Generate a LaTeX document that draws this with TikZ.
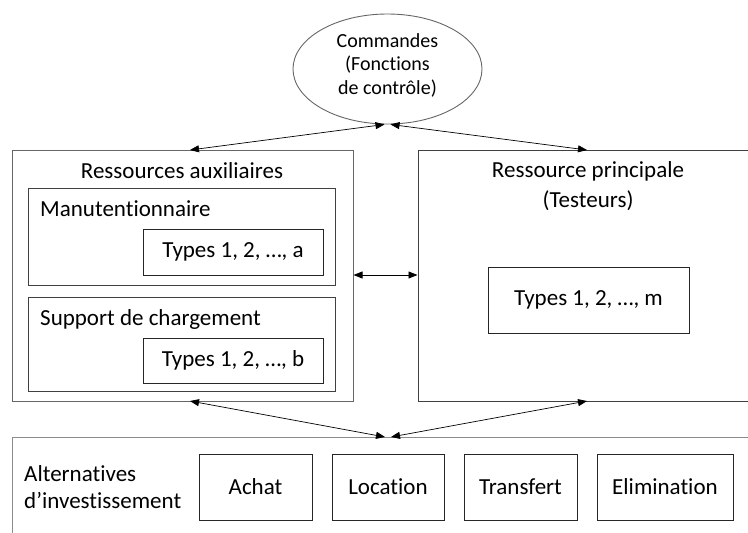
\documentclass[tikz,border=0pt]{standalone}
\usepackage{fontspec}
\setmainfont{Carlito}[Ligatures={NoCommon,NoContextual}]
\usetikzlibrary{shapes.geometric,arrows.meta}
\tikzset{
  outerbox/.style={draw=black!60, line width=1pt, rectangle, inner sep=0pt},
  innerbox/.style={draw=black!85, line width=0.9pt, rectangle, inner sep=0pt, align=center, font=\fontsize{23}{28}\selectfont},
  lbl/.style={inner sep=0pt, anchor=base, font=\fontsize{23}{28}\selectfont},
  conn/.style={black, line width=0.7pt, {Triangle[length=9pt,width=7pt]}-{Triangle[length=9pt,width=7pt]}},
}
\begin{document}
\begin{tikzpicture}[x=1pt,y=-1pt]
\useasboundingbox (0,0) rectangle (748,533);
\clip (0,0) rectangle (748,533);
% commands ellipse
\node[ellipse, draw=black!60, line width=0.9pt, minimum width=189pt, minimum height=110pt, inner sep=0pt] (cmd) at (387.5,69) {};
\node[inner sep=0pt, align=center, font=\fontsize{20}{23.5}\selectfont] (cmdt) at (387.5,65) {Commandes\\(Fonctions\\de contrôle)};
% auxiliary resources
\node[outerbox, minimum width=341pt, minimum height=251pt] (aux) at (182.5,275.5) {};
\node[lbl] (auxt) at (182,178) {Ressources auxiliaires};
\node[outerbox, draw=black!75, minimum width=307pt, minimum height=97pt] (man) at (181.5,236.5) {};
\node[lbl, anchor=base west] (mant) at (40,216) {Manutentionnaire};
\node[innerbox, minimum width=180pt, minimum height=46pt] (ta) at (233,252) {Types 1, 2, …, a};
\node[outerbox, draw=black!75, minimum width=307pt, minimum height=94pt] (sup) at (181.5,344) {};
\node[lbl, anchor=base west] (supt) at (40,325) {Support de chargement};
\node[innerbox, minimum width=180pt, minimum height=45pt] (tb) at (233,360.5) {Types 1, 2, …, b};
% main resource (extends past right edge)
\node[outerbox, draw=black!75, minimum width=360pt, minimum height=251pt] (main) at (598,275.5) {};
\node[lbl] (maint1) at (588,177) {Ressource principale};
\node[lbl] (maint2) at (588,207) {(Testeurs)};
\node[innerbox, minimum width=201pt, minimum height=66pt] (tm) at (588.5,300) {Types 1, 2, …, m};
% investment alternatives (extends past right and bottom edges)
\node[outerbox, draw=black!45, minimum width=760pt, minimum height=130pt, anchor=north west] (alt) at (12,437) {};
\node[inner sep=0pt, anchor=west, align=left, font=\fontsize{23}{27}\selectfont] (altt) at (24,487) {Alternatives\\d’investissement};
\node[innerbox, minimum width=113pt, minimum height=66pt] (ach) at (255.5,487) {Achat};
\node[innerbox, minimum width=112pt, minimum height=66pt] (loc) at (388,487) {Location};
\node[innerbox, minimum width=113pt, minimum height=66pt] (tra) at (520.5,487) {Transfert};
\node[innerbox, minimum width=136pt, minimum height=66pt] (eli) at (665,487) {Elimination};
% connectors
\coordinate (cmdL) at ([xshift=-3pt]cmd.south);
\coordinate (cmdR) at ([xshift=3pt]cmd.south);
\coordinate (altL) at ([xshift=-3pt]alt.north west -| loc.north);
\coordinate (altR) at ([xshift=3pt]alt.north west -| loc.north);
\coordinate (auxN) at (190,150);
\coordinate (mainN) at (587,150);
\coordinate (auxS) at (190,401);
\coordinate (mainS) at (587,401);
\draw[conn] (auxN) -- (cmdL);
\draw[conn] (mainN) -- (cmdR);
\draw[conn] (auxS) -- (altL);
\draw[conn] (mainS) -- (altR);
\draw[conn] (aux.east |- 0,275) -- (main.west |- 0,275);
\end{tikzpicture}
\end{document}
